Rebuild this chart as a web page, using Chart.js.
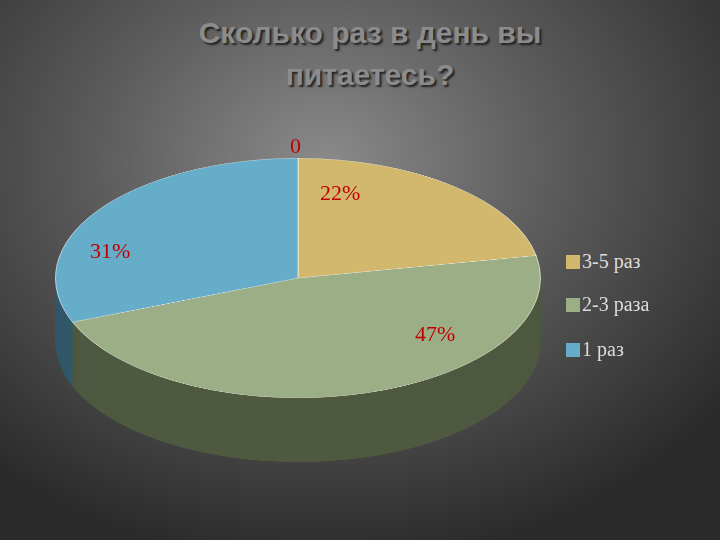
<!DOCTYPE html>
<html><head><meta charset="utf-8">
<script src="https://cdn.jsdelivr.net/npm/chart.js@4"></script>
<style>
body{margin:0;width:720px;height:540px;overflow:hidden;background:radial-gradient(ellipse 70% 75% at 45% 30%,#8a8a8a 0%,#5c5c5c 45%,#2a2a2a 100%);font-family:"Liberation Serif",serif;position:relative}
#title{position:absolute;left:100px;width:540px;top:12px;text-align:center;font-family:"Liberation Sans",Arial,sans-serif;font-weight:bold;font-size:30px;line-height:42px;color:#8c8c8c;text-shadow:2px 2px 2px #222}
#wrap{position:absolute;left:55px;top:158px;width:486px;height:616px;transform-origin:0 0;transform:scaleY(0.494)}
.lab{position:absolute;color:#c00000;font-size:22px}
.leg{position:absolute;left:566px;font-size:20px;color:#ddd}
.leg span{display:inline-block;width:14px;height:14px;margin-right:2px;vertical-align:-1px}
</style></head><body>
<div id="title">Сколько раз в день вы<br>питаетесь?</div>
<div id="wrap"><canvas id="c" width="486" height="616"></canvas></div>
<div class="lab" style="left:290px;top:133px">0</div>
<div class="lab" style="left:320px;top:180px">22%</div>
<div class="lab" style="left:90px;top:238px">31%</div>
<div class="lab" style="left:415px;top:321px">47%</div>
<div id="legend"></div>
<script>
const categories=["3-5 раз","2-3 раза","1 раз"];
const values=[22,47,31];
const topColors=["#d2b86c","#9cae85","#66adc9"];
const sideColors=["#85733f","#4f5a40","#33596a"];
const depth=130;
const sides={id:"sides",beforeDatasetsDraw(chart){
  const ctx=chart.ctx,meta=chart.getDatasetMeta(0);
  ctx.save();
  for(let d=depth;d>0;d-=1){
    meta.data.forEach((a,i)=>{
      ctx.beginPath();ctx.moveTo(a.x,a.y+d);
      ctx.arc(a.x,a.y+d,a.outerRadius,a.startAngle,a.endAngle);
      ctx.closePath();ctx.fillStyle=sideColors[i];ctx.fill();
    });
  }
  ctx.restore();
}};
new Chart(document.getElementById("c"),{type:"pie",
 data:{labels:categories,datasets:[{data:values,backgroundColor:topColors,borderColor:"rgba(255,255,255,0.6)",borderWidth:1}]},
 options:{responsive:false,animation:false,devicePixelRatio:1,layout:{padding:{bottom:depth}},
  plugins:{legend:{display:false},tooltip:{enabled:false}}},
 plugins:[sides]});
const lg=document.getElementById("legend");const ys=[250,293,338];
categories.forEach((c,i)=>{const d=document.createElement("div");d.className="leg";d.style.top=ys[i]+"px";
 d.innerHTML='<span style="background:'+topColors[i]+'"></span>'+c;lg.appendChild(d);});
</script>
</body></html>
